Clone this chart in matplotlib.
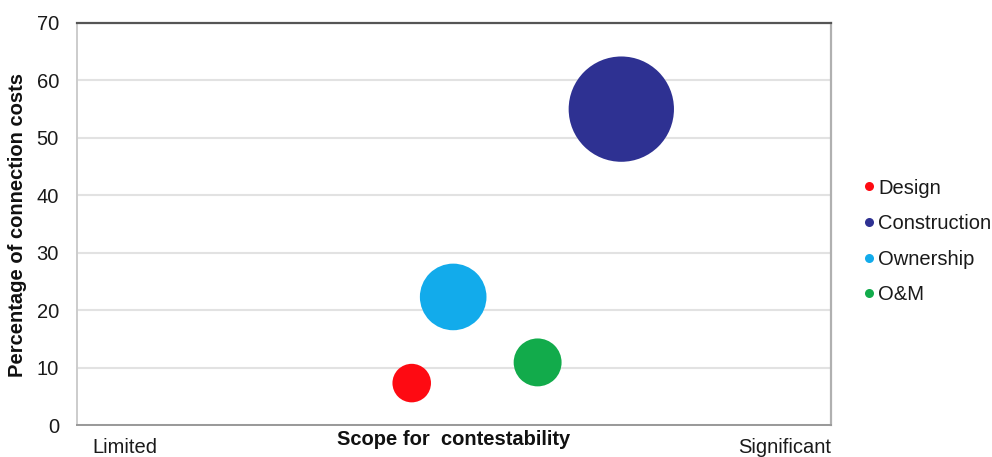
import matplotlib.pyplot as plt
from matplotlib.lines import Line2D

plt.rcParams['font.family'] = ['Liberation Sans', 'DejaVu Sans']

# Connection cost components
components = ['Design', 'Construction', 'Ownership', 'O&M']
contestability = [44.4, 72.2, 49.9, 61.1]   # position on 0-100 scope scale
cost_share = [7.3, 55, 22.3, 10.9]          # percentage of connection costs
bubble_size = [770, 5750, 2300, 1190]       # marker area (points^2)
colors = ['#fe0a12', '#2e3192', '#12abeb', '#12ab4b']

y_ticks = [0, 10, 20, 30, 40, 50, 60, 70]

fig = plt.figure(figsize=(9.92, 4.57), dpi=100)
ax = fig.add_axes([0.0776, 0.070, 0.760, 0.8797])

ax.scatter(contestability, cost_share, s=bubble_size, c=colors,
           edgecolors='none', zorder=3)

ax.set_xlim(0, 100)
ax.set_ylim(0, 70)
ax.set_yticks(y_ticks)
ax.set_xticks([])
ax.tick_params(axis='y', length=0, pad=13, labelsize=14.5, labelcolor='#1a1a1a')
ax.grid(axis='y', color='#e2e2e2', linewidth=1.5, zorder=0)
ax.set_axisbelow(True)

ax.spines['top'].set_color('#555555')
ax.spines['top'].set_linewidth(1.6)
ax.spines['bottom'].set_color('#999999')
ax.spines['bottom'].set_linewidth(1.4)
ax.spines['left'].set_color('#cccccc')
ax.spines['left'].set_linewidth(1.4)
ax.spines['right'].set_color('#b0b0b0')
ax.spines['right'].set_linewidth(1.6)

ax.set_ylabel('Percentage of connection costs', fontsize=14.5, fontweight='bold',
              color='#111111')
ax.yaxis.set_label_coords(-0.066, 0.4975)

# scope labels along the x axis
ax.text(2, -0.055, 'Limited', transform=ax.get_xaxis_transform(),
        ha='left', va='center', fontsize=14.5, color='#1a1a1a')
ax.text(49.9, -0.037, 'Scope for  contestability', transform=ax.get_xaxis_transform(),
        ha='center', va='center', fontsize=14.5, fontweight='bold', color='#111111')
ax.text(100, -0.055, 'Significant', transform=ax.get_xaxis_transform(),
        ha='right', va='center', fontsize=14.5, color='#1a1a1a')

handles = [Line2D([], [], marker='o', linestyle='none', markersize=6.5,
                  markerfacecolor=c, markeredgecolor='none') for c in colors]
fig.legend(handles, components, loc='center left', bbox_to_anchor=(0.858, 0.472),
           frameon=False, fontsize=14.5, handletextpad=0.05, handlelength=0.8,
           labelspacing=0.82, borderpad=0, labelcolor='#1a1a1a')

fig.savefig('out.png', dpi=100)
